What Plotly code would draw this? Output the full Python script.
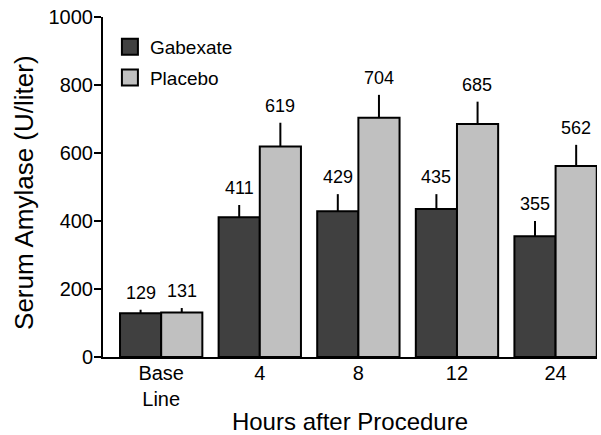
import plotly.graph_objects as go

categories = ["Base<br>Line", "4", "8", "12", "24"]
gabexate = [129, 411, 429, 435, 355]
placebo = [131, 619, 704, 685, 562]
gabexate_err = [10, 36, 50, 44, 45]
placebo_err = [13, 70, 67, 66, 62]
y_ticks = [0, 200, 400, 600, 800, 1000]

DARK = "#404040"
LIGHT = "#c0c0c0"
FONT = "Liberation Sans, Arial, sans-serif"

fig = go.Figure()
for name, vals, errs, col in [("Gabexate", gabexate, gabexate_err, DARK),
                              ("Placebo", placebo, placebo_err, LIGHT)]:
    fig.add_trace(go.Bar(
        x=categories, y=vals, name=name, showlegend=False,
        marker=dict(color=col, line=dict(color="black", width=2)),
        error_y=dict(type="data", symmetric=False, array=errs,
                     arrayminus=[0] * len(errs), color="black",
                     thickness=2, width=0),
    ))
    fig.add_trace(go.Scatter(
        x=[None], y=[None], mode="markers", name=name, legendgroup=name,
        marker=dict(symbol="square", size=18, color=col,
                    line=dict(color="black", width=2)),
    ))

for vals, errs, shift in [(gabexate, gabexate_err, -20.5), (placebo, placebo_err, 20.5)]:
    for i, (v, e) in enumerate(zip(vals, errs)):
        fig.add_annotation(x=i, y=v + e, text=str(v), showarrow=False,
                           xshift=shift, yshift=5, yanchor="bottom",
                           font=dict(size=18, color="black", family=FONT))

# y-axis title
fig.add_annotation(xref="paper", yref="paper", x=-0.16, y=0.5, yshift=-5,
                   text="Serum Amylase (U/liter)", textangle=-90, showarrow=False,
                   xanchor="center", yanchor="middle",
                   font=dict(size=26, color="black", family=FONT))

fig.update_layout(
    width=601, height=435,
    margin=dict(l=103, r=4, t=17, b=78),
    paper_bgcolor="white", plot_bgcolor="white",
    barmode="group", bargap=0.165, bargroupgap=0,
    font=dict(family=FONT, color="black"),
    legend=dict(x=0.014, y=0.968, xanchor="left", yanchor="top",
                font=dict(size=19), bgcolor="rgba(0,0,0,0)",
                tracegroupgap=3, itemsizing="trace"),
    xaxis=dict(range=[-0.59, 4.42], showline=True, linecolor="black",
               linewidth=2, ticks="", tickfont=dict(size=20), automargin=False,
               ticklabelstandoff=-3,
               title=dict(text="Hours after Procedure", font=dict(size=24), standoff=6),
               showgrid=False, zeroline=False),
    yaxis=dict(range=[0, 1000], tickvals=y_ticks, showline=True,
               linecolor="black", linewidth=2, ticks="outside", ticklen=7,
               tickwidth=2, tickcolor="black", tickfont=dict(size=20), automargin=False,
               ticklabelstandoff=-3,
               showgrid=False, zeroline=False),
)

fig.write_html("out.html", config={"displayModeBar": False},
               post_script="document.body.style.margin='0';")
